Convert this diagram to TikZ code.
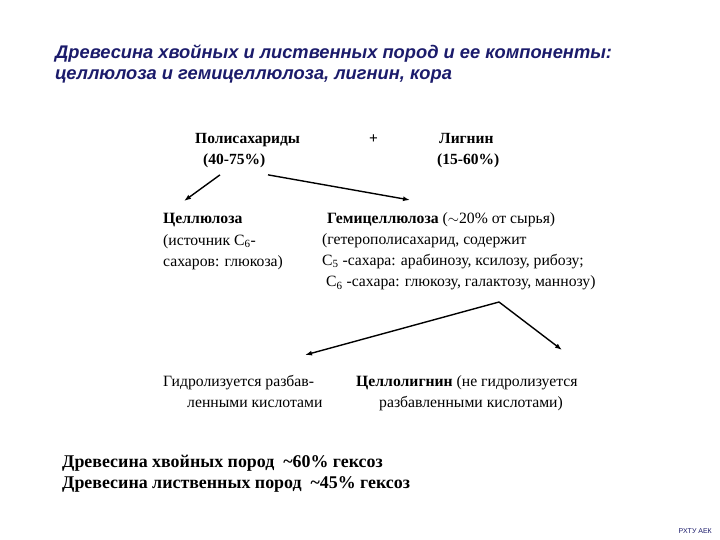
\documentclass[tikz,border=0pt]{standalone}
\usepackage{fontspec}
\setmainfont{Liberation Serif}
\setsansfont{Liberation Sans}
\usepackage{tikz}
\usetikzlibrary{arrows.meta,calc}
\definecolor{titlenavy}{HTML}{1B1B6B}
\tikzset{
  arr/.style={draw=black, -{Latex[length=7pt,width=5pt]}, line width=1.4pt},
  heading/.style={anchor=north west, inner sep=0pt, align=left, text=titlenavy,
    font=\sffamily\bfseries\itshape\fontsize{18.3}{21}\selectfont},
  bigbold/.style={anchor=north west, inner sep=0pt, align=left,
    font=\bfseries\fontsize{15.5}{21}\selectfont},
  body/.style={anchor=north west, inner sep=0pt, align=left,
    font=\fontsize{15.7}{21.3}\selectfont},
  summary/.style={anchor=north west, inner sep=0pt, align=left,
    font=\bfseries\fontsize{17.9}{21}\selectfont}
}

\begin{document}
\begin{tikzpicture}[x=1pt,y=-1pt]
  \path[use as bounding box, fill=white] (0,0) rectangle (720,540);

  \node[heading] (title) at (55,45)
    {Древесина хвойных и лиственных пород и ее компоненты:\\целлюлоза и гемицеллюлоза, лигнин, кора};

  \node[bigbold] (polysach) at (195,133) {Полисахариды\\\hspace{8pt}(40-75\%)};
  \node[bigbold] (plus) at (369,135) {+};
  \node[bigbold] (lignin) at (437,133) {\hspace{2pt}Лигнин\\(15-60\%)};

  \node[body] (cellulose) at (163,213.5)
    {\textbf{Целлюлоза}\\(источник C\textsubscript{6}-\\сахаров: глюкоза)};
  \node[body] (hemicell) at (322,212)
    {\hspace{5pt}\textbf{Гемицеллюлоза} ($\sim$20\% от сырья)\\(гетерополисахарид, содержит\\C\textsubscript{5} -сахара: арабинозу, ксилозу, рибозу;\\\hspace{4pt}C\textsubscript{6} -сахара: глюкозу, галактозу, маннозу)};

  \coordinate (fork) at (499,302);

  \node[body] (hydrol) at (163,375)
    {Гидролизуется разбав-\\\hspace{24pt}ленными кислотами};
  \node[body] (cellolig) at (356,375)
    {\textbf{Целлолигнин} (не гидролизуется\\\hspace{23pt}разбавленными кислотами)};

  \node[summary] (conifer) at (62,455) {Древесина хвойных пород\ \ \textasciitilde60\% гексоз};
  \node[summary] (decid) at (62,476) {Древесина лиственных пород\ \ \textasciitilde45\% гексоз};

  \node[anchor=east, inner sep=0pt, text=titlenavy, font=\sffamily\fontsize{7}{8}\selectfont] (sign) at (712,531) {РХТУ АЕК};

  \draw[arr] ([shift={(25,7)}]polysach.south west) -- ([shift={(21,-12.5)}]cellulose.north west);
  \draw[arr] ([shift={(73,7)}]polysach.south west) -- ([shift={(88,-12)}]hemicell.north west);
  \draw[arr] (fork) -- ([shift={(142,-20)}]hydrol.north west);
  \draw[arr] (fork) -- ([shift={(206,-25)}]cellolig.north west);
\end{tikzpicture}
\end{document}
